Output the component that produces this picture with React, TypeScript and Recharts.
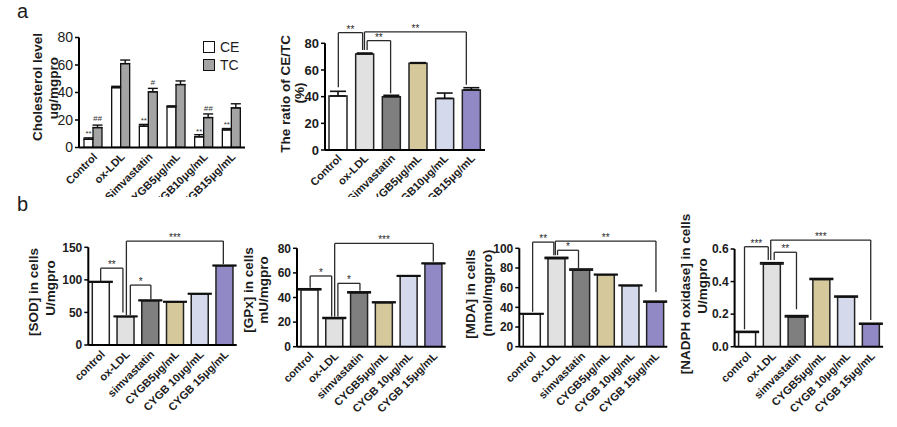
import React from 'react';
import { Bar, BarChart, Cell, ErrorBar, LabelList, ReferenceLine, XAxis, YAxis } from 'recharts';

const FONT = '"Liberation Sans", Arial, Helvetica, sans-serif';
const INK = '#1c1c1c';

// categories
const groupsA = ['Control', 'ox-LDL', 'Simvastatin', 'CYGB5μg/mL', 'CYGB10μg/mL', 'CYGB15μg/mL'];
const groupsB = ['control', 'ox-LDL', 'simvastatin', 'CYGB5μg/mL', 'CYGB 10μg/mL', 'CYGB 15μg/mL'];
const groupColors = ['#ffffff', '#e1e1e1', '#7f7f7f', '#d5c99b', '#d4d9eb', '#9189c5'];
const groupIdx = [0, 1, 2, 3, 4, 5];

// panel a: cholesterol level
const ceLevel = [6, 43.5, 15.5, 29.5, 7.8, 12.8];
const ceErr = [1, 1, 1.3, 0.8, 1.5, 1];
const ceMarks = ['**', '', '**', '', '**', '**'];
const tcLevel = [14.5, 61, 40.5, 45.8, 21.8, 28.8];
const tcErr = [1.8, 2.6, 2.5, 2.6, 2.6, 3];
const tcMarks = ['##', '', '#', '', '##', ''];

// panel a: CE/TC ratio
const ratio = [40.5, 72, 40, 65, 38.7, 45];
const ratioErr = [3.5, 0.7, 1, 0.5, 4, 1.7];

// panel b
const sod = [96.5, 43.5, 68, 66, 78.3, 121.5];
const sodErr = [1, 0.8, 1, 0.8, 0.8, 1];
const gpx = [46.3, 23, 43.8, 35.8, 57.3, 67.5];
const gpxErr = [0.8, 0.7, 0.8, 0.6, 0.5, 0.5];
const mda = [33.2, 89.6, 77.8, 73, 62, 45.3];
const mdaErr = [0.5, 1.2, 1.2, 0.6, 0.6, 1];
const nadph = [0.088, 0.508, 0.183, 0.413, 0.305, 0.138];
const nadphErr = [0.006, 0.008, 0.008, 0.006, 0.006, 0.006];

// y ticks
const ticksChol = [0, 20, 40, 60, 80];
const ticksRatio = [0, 20, 40, 60, 80];
const ticksSod = [0, 50, 100, 150];
const ticksGpx = [0, 20, 40, 60, 80];
const ticksMda = [0, 20, 40, 60, 80, 100];
const ticksNadph = [0, 0.2, 0.4, 0.6];

// significance brackets: x in group index units, y in data units
type Bracket = { from: number; to: number; y: number; fromEnd: number; toEnd: number; label: string };
const ratioBrackets: Bracket[] = [
  { from: 0, to: 0.91, y: 88, fromEnd: 47, toEnd: 75, label: '**' },
  { from: 1.08, to: 1.96, y: 82, fromEnd: 75, toEnd: 42.5, label: '**' },
  { from: 0.98, to: 4.8, y: 88.5, fromEnd: 75, toEnd: 49, label: '**' },
];
const sodBrackets: Bracket[] = [
  { from: 0, to: 0.9, y: 118, fromEnd: 98, toEnd: 50, label: '**' },
  { from: 1.2, to: 2.03, y: 92, fromEnd: 46, toEnd: 70, label: '*' },
  { from: 1.04, to: 4.96, y: 159.5, fromEnd: 46, toEnd: 124, label: '***' },
];
const gpxBrackets: Bracket[] = [
  { from: 0.03, to: 0.9, y: 57.5, fromEnd: 48, toEnd: 24.5, label: '*' },
  { from: 1.15, to: 2.04, y: 51.5, fromEnd: 24.5, toEnd: 45.5, label: '*' },
  { from: 1.02, to: 5, y: 84, fromEnd: 24.5, toEnd: 69, label: '***' },
];
const mdaBrackets: Bracket[] = [
  { from: 0.04, to: 0.9, y: 106.3, fromEnd: 35.5, toEnd: 93, label: '**' },
  { from: 1.05, to: 1.9, y: 98, fromEnd: 93, toEnd: 79.5, label: '*' },
  { from: 0.96, to: 5.04, y: 107.3, fromEnd: 93, toEnd: 55.7, label: '**' },
];
const nadphBrackets: Bracket[] = [
  { from: -0.1, to: 0.86, y: 0.614, fromEnd: 0.107, toEnd: 0.533, label: '***' },
  { from: 1.1, to: 2, y: 0.58, fromEnd: 0.533, toEnd: 0.23, label: '**' },
  { from: 0.96, to: 5, y: 0.655, fromEnd: 0.533, toEnd: 0.164, label: '***' },
];

const cholData = groupIdx.map((idx) => ({
  idx, ce: ceLevel[idx], ceErr: [0, ceErr[idx]], ceMark: ceMarks[idx],
  tc: tcLevel[idx], tcErr: [0, tcErr[idx]], tcMark: tcMarks[idx],
}));
const single = (vals: number[], errs: number[]) =>
  groupIdx.map((idx) => ({ idx, v: vals[idx], err: [0, errs[idx]] }));

type Box = { x: number; y: number; w: number; h: number };
type Plot = { l: number; t: number; r: number; b: number };

function SlantTick({ x, y, payload, names, dx = 5, dy = 10 }: any) {
  const tx = x + dx;
  const ty = y + dy;
  return (
    <text x={tx} y={ty} textAnchor="end" transform={`rotate(-45 ${tx} ${ty})`}
      fontFamily={FONT} fontWeight="bold" fontSize={11} fill={INK}>
      {names[payload.value]}
    </text>
  );
}

function AxisTitle({ lines, xs, ys, box }: any) {
  return (
    <g>
      {lines.map((t: string, i: number) => {
        const x = xs[i] - box.x + 4.8;
        const y = ys[i] - box.y;
        return (
          <text key={t} x={x} y={y} transform={`rotate(-90 ${x} ${y})`} textAnchor="middle"
            fontFamily={FONT} fontWeight="bold" fontSize={13.5} fill={INK}>{t}</text>
        );
      })}
    </g>
  );
}

function bracketLines(list: Bracket[], key: string) {
  const common = { stroke: '#2a2a2a', strokeWidth: 1.3, ifOverflow: 'visible' as const };
  return list.flatMap((b, i) => [
    <ReferenceLine key={`${key}${i}l`} {...common}
      segment={[{ x: b.from, y: b.fromEnd }, { x: b.from, y: b.y }]} />,
    <ReferenceLine key={`${key}${i}t`} {...common}
      segment={[{ x: b.from, y: b.y }, { x: b.to, y: b.y }]}
      label={{ value: b.label, position: 'top', offset: 0, fontSize: 10, fill: '#2a2a2a', fontFamily: FONT }} />,
    <ReferenceLine key={`${key}${i}r`} {...common}
      segment={[{ x: b.to, y: b.y }, { x: b.to, y: b.toEnd }]} />,
  ]);
}

type PanelProps = {
  box: Box; plot: Plot; data: any[]; names: string[]; domain: [number, number]; ticks: number[];
  fmt?: (v: number) => string; tickFont?: any; slant?: { dx: number; dy: number };
  titles: string[]; titleX: number[]; titleY: number[]; children: React.ReactNode;
};

function Panel({ box, plot, data, names, domain, ticks, fmt, tickFont, slant, titles, titleX, titleY, children }: PanelProps) {
  const margin = { top: plot.t - box.y, right: box.x + box.w - plot.r, bottom: 0, left: 0 };
  return (
    <div style={{ position: 'absolute', left: box.x, top: box.y }}>
      <BarChart width={box.w} height={box.h} data={data} margin={margin} barGap={0}>
        <XAxis dataKey="idx" type="number" domain={[-0.5, 5.5]} ticks={groupIdx} allowDataOverflow
          interval={0} height={box.y + box.h - plot.b} tickLine={false}
          tickSize={0} tickMargin={0} axisLine={{ stroke: '#000', strokeWidth: 2 }}
          tick={<SlantTick names={names} dx={slant?.dx ?? 5} dy={slant?.dy ?? 10} />} />
        <YAxis width={plot.l - box.x} domain={domain} ticks={ticks} interval={0} allowDataOverflow
          tickFormatter={fmt} tickSize={4} tickMargin={2}
          axisLine={{ stroke: '#000', strokeWidth: 2 }} tickLine={{ stroke: '#000', strokeWidth: 1.5 }}
          tick={tickFont ?? { fill: INK, fontSize: 12, fontWeight: 'bold', fontFamily: FONT }}
          label={<AxisTitle lines={titles} xs={titleX} ys={titleY} box={box} />} />
        {children}
      </BarChart>
    </div>
  );
}

function colorBar(err: number) {
  return (
    <Bar dataKey="v" barSize={17} stroke="#222" strokeWidth={1.5} isAnimationActive={false}>
      {groupColors.map((c) => <Cell key={c} fill={c} />)}
      <ErrorBar dataKey="err" direction="y" width={err} stroke="#111" strokeWidth={1.6} isAnimationActive={false} />
    </Bar>
  );
}

export default function App() {
  return (
    <div style={{ position: 'absolute', left: 0, top: 0, width: 897, height: 427, background: '#fff', fontFamily: FONT, overflow: 'hidden' }}>
      <span style={{ position: 'absolute', left: 17, top: 0, fontSize: 20, color: INK }}>a</span>
      <span style={{ position: 'absolute', left: 17, top: 193, fontSize: 20, color: INK }}>b</span>

      <Panel box={{ x: 20, y: 0, w: 240, h: 197 }} plot={{ l: 79, t: 37.5, r: 245, b: 147.5 }}
        data={cholData} names={groupsA} domain={[0, 80]} ticks={ticksChol} slant={{ dx: 5, dy: 10 }}
        tickFont={{ fill: INK, fontSize: 14, fontFamily: FONT }}
        titles={['Cholesterol level', 'ug/mgpro']} titleX={[37, 53]} titleY={[87, 88]}>
        <Bar dataKey="ce" barSize={9} fill="#ffffff" stroke="#111" strokeWidth={1.3} isAnimationActive={false}>
          <ErrorBar dataKey="ceErr" direction="y" width={5} stroke="#111" strokeWidth={1.4} isAnimationActive={false} />
          <LabelList dataKey="ceMark" position="top" offset={3} fontSize={8} fill="#333" fontFamily={FONT} />
        </Bar>
        <Bar dataKey="tc" barSize={9} fill="#a4a4a4" stroke="#111" strokeWidth={1.3} isAnimationActive={false}>
          <ErrorBar dataKey="tcErr" direction="y" width={5} stroke="#111" strokeWidth={1.4} isAnimationActive={false} />
          <LabelList dataKey="tcMark" position="top" offset={7} fontSize={8} fontStyle="italic" fill="#333" fontFamily={FONT} />
        </Bar>
      </Panel>

      <div style={{ position: 'absolute', left: 203, top: 38, fontSize: 14, color: INK, lineHeight: '18px' }}>
        <div style={{ display: 'flex', alignItems: 'center', gap: 5 }}>
          <span style={{ width: 10, height: 10, border: '1.3px solid #111', background: '#fff' }} />CE
        </div>
        <div style={{ display: 'flex', alignItems: 'center', gap: 5 }}>
          <span style={{ width: 10, height: 10, border: '1.3px solid #111', background: '#a4a4a4' }} />TC
        </div>
      </div>

      <Panel box={{ x: 270, y: 0, w: 225, h: 197 }} plot={{ l: 325, t: 43.3, r: 485, b: 150 }}
        data={single(ratio, ratioErr)} names={groupsA} domain={[0, 80]} ticks={ticksRatio} slant={{ dx: 4, dy: 9 }}
        tickFont={{ fill: INK, fontSize: 13, fontWeight: 'bold', fontFamily: FONT }}
        titles={['The ratio of CE/TC', '(%)']} titleX={[285, 299]} titleY={[94, 93]}>
        <Bar dataKey="v" barSize={18} stroke="#222" strokeWidth={1.5} isAnimationActive={false}>
          {groupColors.map((c) => <Cell key={c} fill={c} />)}
          <ErrorBar dataKey="err" direction="y" width={8} stroke="#111" strokeWidth={1.6} isAnimationActive={false} />
        </Bar>
        {bracketLines(ratioBrackets, 'r')}
      </Panel>

      <Panel box={{ x: 15, y: 215, w: 230, h: 212 }} plot={{ l: 88.3, t: 247.3, r: 236.7, b: 345 }}
        data={single(sod, sodErr)} names={groupsB} domain={[0, 150]} ticks={ticksSod}
        titles={['[SOD] in cells', 'U/mgpro']} titleX={[33, 50]} titleY={[292, 288]}>
        {colorBar(12)}
        {bracketLines(sodBrackets, 's')}
      </Panel>

      <Panel box={{ x: 235, y: 215, w: 220, h: 212 }} plot={{ l: 297, t: 248.3, r: 445.7, b: 346.7 }}
        data={single(gpx, gpxErr)} names={groupsB} domain={[0, 80]} ticks={ticksGpx}
        titles={['[GPx] in cells', 'mU/mgpro']} titleX={[248, 263]} titleY={[290, 290]}>
        {colorBar(12)}
        {bracketLines(gpxBrackets, 'g')}
      </Panel>

      <Panel box={{ x: 455, y: 215, w: 220, h: 212 }} plot={{ l: 519.3, t: 248.3, r: 667.3, b: 346.7 }}
        data={single(mda, mdaErr)} names={groupsB} domain={[0, 100]} ticks={ticksMda}
        titles={['[MDA] in cells', '(nmol/mgpro)']} titleX={[470, 487]} titleY={[294, 293]}>
        {colorBar(12)}
        {bracketLines(mdaBrackets, 'm')}
      </Panel>

      <Panel box={{ x: 672, y: 205, w: 222, h: 222 }} plot={{ l: 734.6, t: 249, r: 883.1, b: 346.7 }}
        data={single(nadph, nadphErr)} names={groupsB} domain={[0, 0.6]} ticks={ticksNadph}
        fmt={(v) => v.toFixed(1)}
        titles={['[NADPH oxidase] in cells', 'U/mgpro']} titleX={[685, 702]} titleY={[294, 286]}>
        {colorBar(12)}
        {bracketLines(nadphBrackets, 'n')}
      </Panel>
    </div>
  );
}
